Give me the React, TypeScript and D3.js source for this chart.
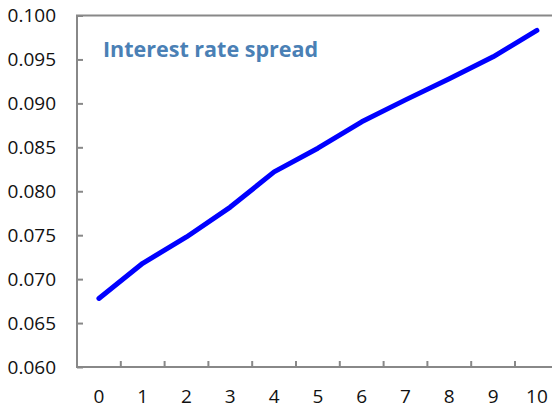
import React, { useEffect, useRef } from "react";
import * as d3 from "d3";

// --- Data ---
const periods = ["0", "1", "2", "3", "4", "5", "6", "7", "8", "9", "10"];
const spread = [0.0678, 0.0718, 0.0748, 0.0782, 0.0822, 0.0849, 0.0879, 0.0904, 0.0928, 0.0953, 0.0983];
const yTicks = [0.06, 0.065, 0.07, 0.075, 0.08, 0.085, 0.09, 0.095, 0.1];
const title = "Interest rate spread";

const W = 552;
const H = 411;

const App: React.FC = () => {
  const svgRef = useRef<SVGSVGElement>(null);

  useEffect(() => {
    if (!svgRef.current) return;
    const svg = d3.select(svgRef.current);
    svg.selectAll("*").remove();

    // plot area runs past the right edge of the picture
    const left = 77;
    const top = 15.5;
    const bottom = 367;
    const band = 43.8;
    const right = left + band * periods.length;

    const x = d3.scaleBand().domain(periods).range([left, right]);
    const y = d3.scaleLinear().domain([0.06, 0.1]).range([bottom, top]);

    const axisColor = "#888888";
    const font = "'Open Sans', 'Noto Sans', sans-serif";

    // frame (top + left + bottom visible)
    svg
      .append("rect")
      .attr("x", left)
      .attr("y", top)
      .attr("width", right - left)
      .attr("height", bottom - top)
      .attr("fill", "none")
      .attr("stroke", axisColor)
      .attr("stroke-width", 2);

    // y axis ticks (pointing inwards)
    const yAxis = svg
      .append("g")
      .attr("transform", `translate(${left},0)`)
      .call(
        d3
          .axisLeft(y)
          .tickValues(yTicks)
          .tickSize(-6)
          .tickPadding(21)
          .tickFormat(d3.format(".3f"))
      );
    yAxis.select(".domain").remove();
    yAxis.selectAll(".tick line").attr("stroke", axisColor).attr("stroke-width", 2);
    yAxis
      .selectAll(".tick text")
      .attr("fill", "#111")
      .style("font-family", font)
      .style("font-size", "19px");

    // x axis: tick marks between categories, pointing up
    const xAxis = svg.append("g");
    d3.range(1, periods.length).forEach((i) => {
      xAxis
        .append("line")
        .attr("x1", left + i * x.step())
        .attr("x2", left + i * x.step())
        .attr("y1", bottom)
        .attr("y2", bottom - 6)
        .attr("stroke", axisColor)
        .attr("stroke-width", 2);
    });
    xAxis
      .selectAll("text")
      .data(periods)
      .enter()
      .append("text")
      .attr("x", (d) => x(d)! + x.bandwidth() / 2)
      .attr("y", 403)
      .attr("text-anchor", "middle")
      .attr("fill", "#111")
      .style("font-family", font)
      .style("font-size", "19px")
      .text((d) => d);

    // the series
    const line = d3
      .line<number>()
      .x((_, i) => x(periods[i])! + x.bandwidth() / 2)
      .y((d) => y(d));

    svg
      .append("path")
      .datum(spread)
      .attr("d", line)
      .attr("fill", "none")
      .attr("stroke", "#0000ff")
      .attr("stroke-width", 5)
      .attr("stroke-linecap", "round")
      .attr("stroke-linejoin", "round");

    // title inside plot
    svg
      .append("text")
      .attr("x", 103)
      .attr("y", 57)
      .attr("fill", "#4a80b5")
      .style("font-family", font)
      .style("font-size", "21.5px")
      .style("font-weight", "bold")
      .text(title);
  }, []);

  return (
    <div style={{ position: "fixed", left: 0, top: 0, width: W, height: H, background: "#fff" }}>
      <svg ref={svgRef} width={W} height={H} style={{ display: "block" }} />
    </div>
  );
};

export default App;
